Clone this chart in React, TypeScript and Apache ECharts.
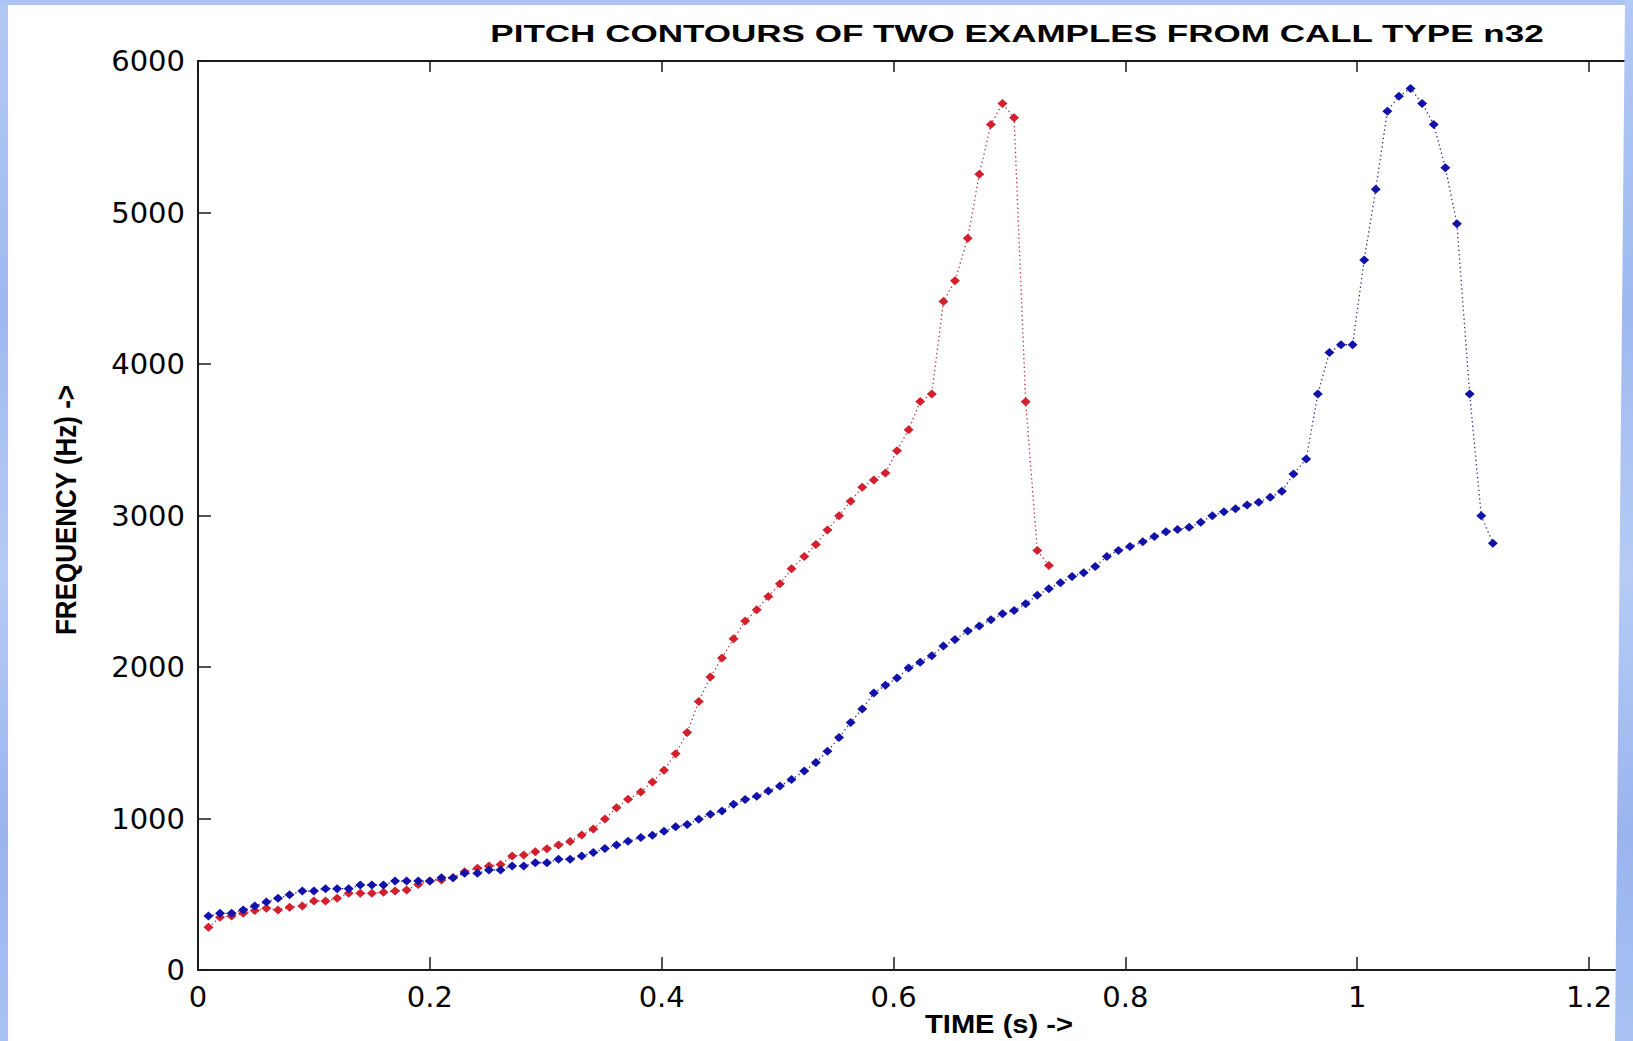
import React, { useEffect, useRef } from "react";
import * as echarts from "echarts";

// Time stamps of the pitch frames (s)
const TIME = [
  0.009, 0.019, 0.029, 0.039, 0.049, 0.059, 0.069, 0.079, 0.09, 0.1,
  0.11, 0.12, 0.13, 0.14, 0.15, 0.16, 0.17, 0.18, 0.19, 0.2,
  0.21, 0.22, 0.23, 0.241, 0.251, 0.261, 0.271, 0.281, 0.291, 0.301,
  0.311, 0.321, 0.331, 0.341, 0.351, 0.361, 0.371, 0.382, 0.392, 0.402,
  0.412, 0.422, 0.432, 0.442, 0.452, 0.462, 0.472, 0.482, 0.492, 0.502,
  0.512, 0.523, 0.533, 0.543, 0.553, 0.563, 0.573, 0.583, 0.593, 0.603,
  0.613, 0.623, 0.633, 0.643, 0.653, 0.664, 0.674, 0.684, 0.694, 0.704,
  0.714, 0.724, 0.734, 0.744, 0.754, 0.764, 0.774, 0.784, 0.794, 0.804,
  0.815, 0.825, 0.835, 0.845, 0.855, 0.865, 0.875, 0.885, 0.895, 0.905,
  0.915, 0.925, 0.935, 0.945, 0.956, 0.966, 0.976, 0.986, 0.996, 1.006,
  1.016, 1.026, 1.036, 1.046, 1.056, 1.066, 1.076, 1.086, 1.097, 1.107, 1.117,
];

// Example 1 (red), Hz
const RED_FREQ = [
  282, 348, 356, 374, 392, 407, 396, 414, 422, 455,
  455, 473, 506, 506, 506, 513, 521, 528, 565, 587,
  594, 609, 649, 671, 686, 697, 752, 759, 781, 801,
  825, 849, 891, 931, 997, 1071, 1127, 1175, 1241, 1318,
  1428, 1567, 1773, 1934, 2059, 2186, 2303, 2378, 2465, 2549,
  2648, 2729, 2808, 2905, 2999, 3094, 3186, 3235, 3281, 3428,
  3566, 3753, 3802, 4412, 4549, 4830, 5252, 5581, 5720, 5625,
  3751, 2769, 2670,
];

// Example 2 (blue), Hz
const BLUE_FREQ = [
  356, 374, 374, 396, 422, 449, 473, 497, 521, 521,
  537, 537, 537, 561, 561, 561, 587, 587, 587, 587,
  609, 609, 638, 638, 660, 660, 686, 686, 708, 708,
  731, 731, 752, 775, 802, 825, 850, 874, 890, 916,
  945, 960, 995, 1028, 1050, 1094, 1125, 1147, 1182, 1215,
  1257, 1314, 1369, 1444, 1534, 1633, 1723, 1828, 1879, 1927,
  1993, 2032, 2074, 2138, 2181, 2237, 2270, 2312, 2351, 2373,
  2417, 2474, 2516, 2556, 2597, 2622, 2663, 2729, 2769, 2795,
  2826, 2861, 2892, 2907, 2922, 2955, 2999, 3024, 3045, 3070,
  3087, 3120, 3160, 3274, 3373, 3802, 4076, 4127, 4127, 4687,
  5153, 5669, 5768, 5819, 5720, 5581, 5296, 4926, 3802, 2999, 2817,
];

const X_TICKS = [0, 0.2, 0.4, 0.6, 0.8, 1, 1.2];
const Y_TICKS = [0, 1000, 2000, 3000, 4000, 5000, 6000];

const TITLE = "PITCH CONTOURS OF TWO EXAMPLES FROM CALL TYPE n32";
const X_NAME = "TIME (s) ->";
const Y_NAME = "FREQUENCY (Hz) ->";

const BORDER_BLUE = {
  type: "linear",
  x: 0,
  y: 0,
  x2: 0,
  y2: 1,
  colorStops: [
    { offset: 0, color: "#b3c9f5" },
    { offset: 0.3, color: "#9fb9ef" },
    { offset: 0.55, color: "#b6cbf6" },
    { offset: 0.8, color: "#9ab4ee" },
    { offset: 1, color: "#a9c1f3" },
  ],
};

export default function App() {
  const ref = useRef<HTMLDivElement>(null);

  useEffect(() => {
    if (!ref.current) return;
    const chart = echarts.init(ref.current, null, { renderer: "svg" });

    const redData = RED_FREQ.map((f, i) => [TIME[i], f]);
    const blueData = BLUE_FREQ.map((f, i) => [TIME[i], f]);

    const tickFont = {
      fontFamily: "DejaVu Sans",
      fontSize: 29,
      color: "#000",
    };

    const axisLine = { show: true, lineStyle: { color: "#1a1a1a", width: 2 } };
    const tickLine = { color: "#1a1a1a", width: 1.5 };

    // plot area runs to the right edge of the picture (it is cropped there)
    const X_MAX = 1.2379;

    const option: any = {
      animation: false,
      backgroundColor: "#ffffff",
      grid: { left: 198, top: 61, right: 0, bottom: 71, containLabel: false },
      xAxis: [
        {
          type: "value",
          position: "bottom",
          min: 0,
          max: X_MAX,
          interval: 0.2,
          axisLine,
          axisTick: {
            show: true,
            inside: true,
            length: 13,
            customValues: X_TICKS,
            lineStyle: tickLine,
          },
          axisLabel: {
            ...tickFont,
            margin: 12,
            customValues: X_TICKS,
            formatter: (v: number) => String(+Number(v).toFixed(1)),
          },
          splitLine: { show: false },
        },
        {
          type: "value",
          position: "top",
          min: 0,
          max: X_MAX,
          interval: 0.2,
          axisLine,
          axisTick: {
            show: true,
            inside: true,
            length: 11,
            customValues: X_TICKS,
            lineStyle: tickLine,
          },
          axisLabel: { show: false },
          splitLine: { show: false },
        },
      ],
      yAxis: {
        type: "value",
        min: 0,
        max: 6000,
        interval: 1000,
        axisLine,
        axisTick: {
          show: true,
          inside: true,
          length: 13,
          customValues: Y_TICKS,
          lineStyle: tickLine,
        },
        axisLabel: {
          ...tickFont,
          margin: 13,
          customValues: Y_TICKS,
          formatter: (v: number) => String(Math.round(Number(v))),
        },
        splitLine: { show: false },
      },
      series: [
        {
          name: "Example 1",
          type: "line",
          xAxisIndex: 0,
          data: redData,
          symbol: "diamond",
          symbolSize: [10, 9],
          showAllSymbol: true,
          itemStyle: { color: "#d2202e" },
          lineStyle: { color: "#b2303a", width: 1.3, type: [1.3, 3] },
          z: 3,
        },
        {
          name: "Example 2",
          type: "line",
          xAxisIndex: 0,
          data: blueData,
          symbol: "diamond",
          symbolSize: [10, 9],
          showAllSymbol: true,
          itemStyle: { color: "#1212aa" },
          lineStyle: { color: "#2a2a8a", width: 1.3, type: [1.3, 3] },
          z: 4,
        },
      ],
      graphic: [
        {
          type: "text",
          x: 1017,
          y: 34,
          scaleX: 1.46,
          style: {
            text: TITLE,
            font: 'bold 24px "Liberation Sans"',
            fill: "#000",
            align: "center",
            verticalAlign: "middle",
            textAlign: "center",
            textVerticalAlign: "middle",
          },
        },
        {
          type: "text",
          x: 999,
          y: 1024,
          scaleX: 1.12,
          style: {
            text: X_NAME,
            font: 'bold 26px "Liberation Sans"',
            fill: "#000",
            align: "center",
            verticalAlign: "middle",
            textAlign: "center",
            textVerticalAlign: "middle",
          },
        },
        {
          type: "text",
          x: 65,
          y: 510,
          rotation: Math.PI / 2,
          scaleY: 1.17,
          style: {
            text: Y_NAME,
            font: 'bold 26px "Liberation Sans"',
            fill: "#000",
            align: "center",
            verticalAlign: "middle",
            textAlign: "center",
            textVerticalAlign: "middle",
          },
        },
        {
          type: "rect",
          z: 100,
          shape: { x: 0, y: 0, width: 8, height: 1041 },
          style: { fill: BORDER_BLUE, lineWidth: 0 },
        },
        {
          type: "rect",
          z: 100,
          shape: { x: 0, y: 0, width: 1633, height: 5 },
          style: { fill: "#adc4f4", lineWidth: 0 },
        },
        {
          type: "polygon",
          z: 100,
          shape: {
            points: [
              [1625, 0],
              [1633, 0],
              [1633, 1041],
              [1615, 1041],
            ],
          },
          style: { fill: BORDER_BLUE, lineWidth: 0 },
        },
      ],
    };

    chart.setOption(option);
    return () => chart.dispose();
  }, []);

  return (
    <div
      ref={ref}
      style={{ position: "fixed", left: 0, top: 0, width: 1633, height: 1041 }}
    />
  );
}
